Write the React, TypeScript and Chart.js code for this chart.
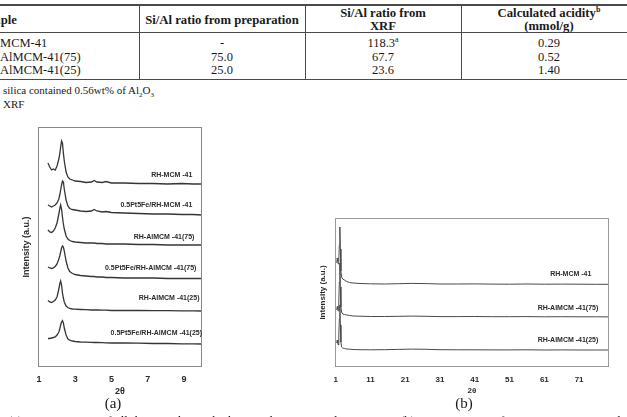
import React, { useEffect, useRef } from "react";
import { Chart, registerables } from "chart.js";

Chart.register(...registerables);

// ---------------- Table data ----------------
const tableSamples = ["RH-MCM-41", "RH-AlMCM-41(75)", "RH-AlMCM-41(25)"];
const siAlPreparation = ["-", "75.0", "25.0"];
const siAlXrf = ["118.3", "67.7", "23.6"];
const siAlXrfNotes = ["a", "", ""];
const calculatedAcidity = ["0.29", "0.52", "1.40"];

// ---------------- Chart (a): low-angle XRD ----------------
const twoThetaA = [1.5, 1.6, 1.7, 1.8, 1.9, 2.0, 2.1, 2.15, 2.2, 2.25, 2.3, 2.35, 2.4, 2.5, 2.6, 2.7, 2.85, 3.0, 3.3, 3.6, 3.9, 4.05, 4.2, 4.5, 4.7, 5.0, 5.7, 6.5, 7.3, 8.1, 8.9, 9.5, 10.0];
const aRhMcm41 = [204, 200, 197, 198, 197, 201, 208, 213, 220, 226, 224, 214, 206, 195, 190, 188, 187, 186, 185.5, 184.5, 185, 186.5, 185, 184.5, 185.5, 184, 184, 183.5, 183.5, 183, 183.5, 183, 183];
const aPtFeRhMcm41 = [162, 161, 160, 161, 162, 164, 168, 172, 177, 182, 186, 185, 178, 167, 161, 158.5, 157.5, 157, 156, 155.5, 156, 157.5, 156, 155, 155.5, 154.5, 154, 153.5, 153, 153, 152.5, 152.5, 152];
const aRhAlMcm75 = [137, 135, 134.5, 136, 139, 144, 153, 158, 162, 158, 150, 143, 138, 131, 128, 126.5, 125.5, 125, 124.5, 124, 124, 124, 123.5, 123.5, 123, 123, 123, 122.5, 122.5, 122, 122, 122, 122];
const aPtFeRhAlMcm75 = [100, 99, 98.5, 99, 100.5, 103, 108, 111, 115, 119, 121, 120, 116, 106, 99, 95.5, 93.5, 92.5, 91.5, 91, 90.5, 90.5, 90, 90, 89.5, 89.5, 89, 89, 89, 88.5, 88.5, 88.5, 88.5];
const aRhAlMcm25 = [66.5, 65, 64.5, 65.5, 67, 70, 78, 83, 86, 82, 74, 69, 65, 61, 59.5, 58.5, 58, 57.8, 57.5, 57.3, 57, 57, 57, 56.8, 56.8, 56.5, 56.5, 56.5, 56.3, 56.3, 56.2, 56.2, 56];
const aPtFeRhAlMcm25 = [28.5, 28.5, 29, 29.5, 30, 32, 35, 38, 42, 45, 46.3, 44, 39, 32, 28, 26.8, 26, 25.5, 25, 24.8, 24.6, 24.5, 24.5, 24.3, 24.2, 24, 24, 23.8, 23.5, 23.5, 23.2, 23.2, 23];
const namesA = ["RH-MCM -41", "0.5Pt5Fe/RH-MCM -41", "RH-AlMCM -41(75)", "0.5Pt5Fe/RH-AlMCM -41(75)", "RH-AlMCM -41(25)", "0.5Pt5Fe/RH-AlMCM -41(25)"];
const labelXA = [9.47, 9.47, 9.58, 9.69, 9.86, 10.0];
const labelYA = [192, 162, 130.3, 98.7, 68.7, 33.7];
const ticksA = [1, 3, 5, 7, 9];

// ---------------- Chart (b): wide-angle XRD ----------------
const twoThetaB = [1.3, 1.45, 1.6, 1.75, 1.9, 2.05, 2.2, 2.35, 2.5, 2.7, 3.0, 3.5, 4.2, 5.0, 6.0, 8.0, 11, 15, 19, 23, 27, 31, 36, 41, 46, 51, 56, 61, 66, 71, 76, 79.5];
const bRhMcm41 = [104, 109, 106, 103, 108, 122, 140, 118, 96, 90, 88, 87, 85.5, 84.5, 84, 83.5, 83.2, 83, 83.3, 83.6, 83.4, 83, 83, 83.1, 82.9, 82.8, 83, 82.8, 82.9, 82.8, 82.7, 82.7];
const bRhAlMcm75 = [57, 60.5, 58, 56, 66, 85, 104, 80, 60, 55, 53, 52.5, 52, 51.5, 51, 50.8, 50.5, 50.5, 50.7, 50.9, 50.7, 50.4, 50.4, 50.5, 50.3, 50.3, 50.4, 50.2, 50.3, 50.2, 50.2, 50.1];
const bRhAlMcm25 = [24, 27, 24, 22, 32, 48, 62, 42, 25, 20, 19, 18.5, 18, 17.8, 17.5, 17.3, 17.2, 17.3, 17.6, 17.9, 17.7, 17.3, 17.2, 17.2, 17.1, 17.1, 17.2, 17, 17.1, 17, 17, 17];
const namesB = ["RH-MCM -41", "RH-AlMCM -41(75)", "RH-AlMCM -41(25)"];
const labelXB = [68.6, 67.8, 67.8];
const labelYB = [92.7, 59.3, 27];
const ticksB = [1, 11, 21, 31, 41, 51, 61, 71];

type Spec = {
  xs: number[];
  series: number[][];
  names: string[];
  labelX: number[];
  labelY: number[];
  labelAlign: CanvasTextAlign;
  xMin: number;
  xMax: number;
  yMax: number;
  ticks: number[];
  width: number;
  height: number;
  yAxisWidth: number;
  xAxisHeight: number;
  padTop: number;
  padRight: number;
  tickFont: number;
  tickPad: number;
  titleFont: number;
  yTitlePad: number;
  xTitlePad: number;
  lineColor: string;
  lineWidth: number;
  boxColor: string;
  labelFont: string;
};

const specA: Spec = {
  xs: twoThetaA,
  series: [aRhMcm41, aPtFeRhMcm41, aRhAlMcm75, aPtFeRhAlMcm75, aRhAlMcm25, aPtFeRhAlMcm25],
  names: namesA,
  labelX: labelXA,
  labelY: labelYA,
  labelAlign: "right",
  xMin: 0.95,
  xMax: 10,
  yMax: 240,
  ticks: ticksA,
  width: 215,
  height: 292,
  yAxisWidth: 38,
  xAxisHeight: 35,
  padTop: 17,
  padRight: 13,
  tickFont: 9,
  tickPad: 7,
  titleFont: 9,
  yTitlePad: 21.1,
  xTitlePad: 5,
  lineColor: "#363636",
  lineWidth: 1.3,
  boxColor: "#8a8a8a",
  labelFont: "bold 7px 'Liberation Sans', Arial, sans-serif",
};

const specB: Spec = {
  xs: twoThetaB,
  series: [bRhMcm41, bRhAlMcm75, bRhAlMcm25],
  names: namesB,
  labelX: labelXB,
  labelY: labelYB,
  labelAlign: "center",
  xMin: 0.8,
  xMax: 79.6,
  yMax: 149,
  ticks: ticksB,
  width: 315,
  height: 202,
  yAxisWidth: 23,
  xAxisHeight: 35,
  padTop: 18,
  padRight: 18,
  tickFont: 8,
  tickPad: 7.5,
  titleFont: 8,
  yTitlePad: 5.7,
  xTitlePad: 6,
  lineColor: "#4a4a4a",
  lineWidth: 1,
  boxColor: "#9a9a9a",
  labelFont: "bold 7px 'Liberation Sans', Arial, sans-serif",
};

function XrdChart({ spec, left, top }: { spec: Spec; left: number; top: number }) {
  const ref = useRef<HTMLCanvasElement>(null);
  useEffect(() => {
    const canvas = ref.current;
    if (!canvas) return;
    const boxLabels = {
      id: "boxLabels",
      afterDraw(chart: any) {
        const { ctx, chartArea, scales } = chart;
        const { left: l, top: t, right: r, bottom: b } = chartArea;
        ctx.save();
        ctx.strokeStyle = spec.boxColor;
        ctx.lineWidth = 1;
        ctx.strokeRect(Math.round(l) + 0.5, Math.round(t) + 0.5, Math.round(r - l) - 1, Math.round(b - t) - 1);
        ctx.font = spec.labelFont;
        ctx.fillStyle = "#2b2b2b";
        ctx.textAlign = spec.labelAlign;
        ctx.textBaseline = "middle";
        spec.names.forEach((name, i) => {
          ctx.fillText(name, scales.x.getPixelForValue(spec.labelX[i]), scales.y.getPixelForValue(spec.labelY[i]));
        });
        ctx.restore();
      },
    };
    const axisFont = (size: number) => ({ family: "'Liberation Sans', Arial, sans-serif", size, weight: "bold" as const, lineHeight: 1.2 });
    const chart = new Chart(canvas, {
      type: "line",
      data: {
        datasets: spec.series.map((ys, i) => ({
          label: spec.names[i],
          data: spec.xs.map((x, j) => ({ x, y: ys[j] })),
          borderColor: spec.lineColor,
          borderWidth: spec.lineWidth,
          pointRadius: 0,
          tension: 0,
          fill: false,
        })),
      },
      options: {
        animation: false,
        responsive: false,
        devicePixelRatio: 1,
        layout: { padding: { top: spec.padTop, right: spec.padRight, left: 0, bottom: 0 } },
        plugins: { legend: { display: false }, tooltip: { enabled: false } },
        scales: {
          x: {
            type: "linear",
            min: spec.xMin,
            max: spec.xMax,
            afterBuildTicks: (s: any) => {
              s.ticks = spec.ticks.map((v) => ({ value: v }));
            },
            afterFit: (s: any) => {
              s.height = spec.xAxisHeight;
            },
            grid: { display: false, drawTicks: false },
            border: { display: false },
            ticks: {
              padding: spec.tickPad,
              color: "#2a2a2a",
              font: axisFont(spec.tickFont),
              maxRotation: 0,
              autoSkip: false,
            },
            title: {
              display: true,
              text: "2θ",
              color: "#2a2a2a",
              font: axisFont(spec.titleFont),
              padding: { top: 0, bottom: spec.xTitlePad },
            },
          },
          y: {
            type: "linear",
            min: 0,
            max: spec.yMax,
            afterFit: (s: any) => {
              s.width = spec.yAxisWidth;
            },
            grid: { display: false, drawTicks: false },
            border: { display: false },
            ticks: { display: false },
            title: {
              display: true,
              text: "Intensity (a.u.)",
              color: "#2a2a2a",
              font: axisFont(spec.titleFont),
              padding: { top: spec.yTitlePad, bottom: 0 },
            },
          },
        },
      } as any,
      plugins: [boxLabels],
    });
    return () => chart.destroy();
  }, [spec]);
  return (
    <canvas
      ref={ref}
      width={spec.width}
      height={spec.height}
      style={{ position: "absolute", left, top, width: spec.width, height: spec.height }}
    />
  );
}

function Txt({
  x,
  y,
  w,
  align = "left",
  size = 12.5,
  bold = false,
  children,
}: {
  x: number;
  y: number;
  w?: number;
  align?: "left" | "center";
  size?: number;
  bold?: boolean;
  children: React.ReactNode;
}) {
  const lh = 14;
  return (
    <div
      style={{
        position: "absolute",
        left: x,
        top: y - lh / 2,
        width: w,
        height: lh,
        lineHeight: lh + "px",
        fontSize: size,
        fontWeight: bold ? "bold" : "normal",
        textAlign: align,
        whiteSpace: "nowrap",
      }}
    >
      {children}
    </div>
  );
}

const Sup = ({ children }: { children: React.ReactNode }) => (
  <span style={{ fontSize: 8, position: "relative", top: -5 }}>{children}</span>
);

const lineColor = "#4a4a4a";

export default function App() {
  const colLeft = [-30, 139, 305, 461];
  const colWidth = [169, 166, 156, 176];
  const rowY = [43, 56.5, 70];
  const hLine = (top: number, h: number) => (
    <div style={{ position: "absolute", left: 0, top, width: 627, height: h, background: lineColor }} />
  );
  const vLine = (left: number) => (
    <div style={{ position: "absolute", left, top: 4, width: 1, height: 76, background: lineColor }} />
  );
  return (
    <div
      style={{
        position: "fixed",
        left: 0,
        top: 0,
        width: 627,
        height: 417,
        overflow: "hidden",
        background: "#fff",
        color: "#1a1a1a",
        fontFamily: "'Liberation Serif', 'Times New Roman', serif",
      }}
    >
      {/* Table */}
      {hLine(4, 1.5)}
      {hLine(32, 1)}
      {hLine(78.5, 1.5)}
      {vLine(139)}
      {vLine(305)}
      {vLine(461)}

      <Txt x={-23.3} y={20} size={12.7} bold>
        Sample
      </Txt>
      <Txt x={colLeft[1]} w={colWidth[1]} y={19.5} align="center" size={12.7} bold>
        Si/Al ratio from preparation
      </Txt>
      <Txt x={colLeft[2]} w={colWidth[2]} y={13} align="center" size={12.7} bold>
        Si/Al ratio from
      </Txt>
      <Txt x={colLeft[2]} w={colWidth[2]} y={25.5} align="center" size={12.7} bold>
        XRF
      </Txt>
      <Txt x={colLeft[3]} w={colWidth[3]} y={13} align="center" size={12.7} bold>
        Calculated acidity<Sup>b</Sup>
      </Txt>
      <Txt x={colLeft[3]} w={colWidth[3]} y={25.5} align="center" size={12.7} bold>
        (mmol/g)
      </Txt>

      {tableSamples.map((s, i) => (
        <React.Fragment key={s}>
          <Txt x={-21.5} y={rowY[i]}>
            {s}
          </Txt>
          <Txt x={colLeft[1]} w={colWidth[1]} y={rowY[i]} align="center">
            {siAlPreparation[i]}
          </Txt>
          <Txt x={colLeft[2]} w={colWidth[2]} y={rowY[i]} align="center">
            {siAlXrf[i]}
            {siAlXrfNotes[i] ? <Sup>{siAlXrfNotes[i]}</Sup> : null}
          </Txt>
          <Txt x={colLeft[3]} w={colWidth[3]} y={rowY[i]} align="center">
            {calculatedAcidity[i]}
          </Txt>
        </React.Fragment>
      ))}

      <Txt x={3} y={90} size={11}>
        silica contained 0.56wt% of Al<sub style={{ fontSize: 7 }}>2</sub>O<sub style={{ fontSize: 7 }}>3</sub>
      </Txt>
      <Txt x={3} y={104} size={11}>
        XRF
      </Txt>

      {/* Charts */}
      <XrdChart spec={specA} left={0} top={110} />
      <XrdChart spec={specB} left={312} top={200} />

      {/* Sub-figure captions */}
      <div style={{ position: "absolute", left: 83, width: 60, top: 394, lineHeight: "18px", fontSize: 15, textAlign: "center" }}>
        (a)
      </div>
      <div style={{ position: "absolute", left: 434, width: 60, top: 394, lineHeight: "18px", fontSize: 15, textAlign: "center" }}>
        (b)
      </div>

      {/* Figure caption (cut off at page bottom) */}
      <div style={{ position: "absolute", left: 8, top: 413, lineHeight: "15px", fontSize: 13, whiteSpace: "nowrap" }}>
        (a) XRD patterns of all the samples in the low angle region and
      </div>
      <div style={{ position: "absolute", left: 400, top: 413, lineHeight: "15px", fontSize: 13, whiteSpace: "nowrap" }}>
        (b) XRD patterns of RH-MCM-41, RH-AlMCM-41(75) and RH-AlMCM-41(25)
      </div>
    </div>
  );
}
